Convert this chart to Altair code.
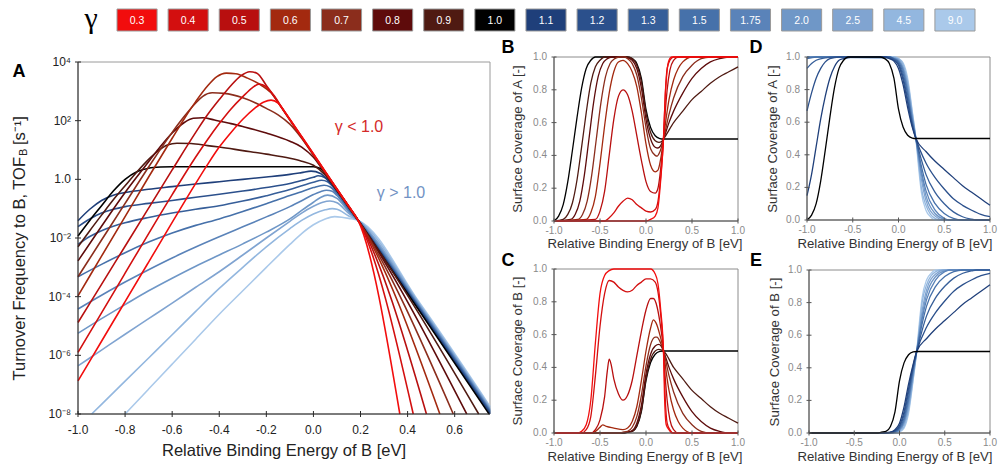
import altair as alt
import pandas as pd

FONT = "Liberation Sans"

GAMMAS = ["0.3", "0.4", "0.5", "0.6", "0.7", "0.8", "0.9", "1.0", "1.1", "1.2",
          "1.3", "1.5", "1.75", "2.0", "2.5", "4.5", "9.0"]
COLORS = ["#f20d0d", "#d30f0f", "#b80f0f", "#a3290f", "#8b2d1c", "#5e0b0b", "#4f1a12",
          "#000000", "#1f3f7a", "#2b508c", "#365e99", "#4671aa", "#5a83b9", "#6f97c7",
          "#80a4d1", "#93b7df", "#aac9ea"]

# tick values / labels
A_XTICKS = [-1.0, -0.8, -0.6, -0.4, -0.2, 0.0, 0.2, 0.4, 0.6]
A_XLABELS = ["-1.0", "-0.8", "-0.6", "-0.4", "-0.2", "0.0", "0.2", "0.4", "0.6"]
A_YTICKS = [-8, -6, -4, -2, 0, 2, 4]
A_YLABELS = ["10\u207b\u2078", "10\u207b\u2076", "10\u207b\u2074", "10\u207b\u00b2", "1.0",
             "10\u00b2", "10\u2074"]
S_XTICKS = [-1.0, -0.5, 0.0, 0.5, 1.0]
S_XLABELS = ["-1.0", "-0.5", "0.0", "0.5", "1.0"]
S_YTICKS = [0.0, 0.2, 0.4, 0.6, 0.8, 1.0]
S_YLABELS = ["0.0", "0.2", "0.4", "0.6", "0.8", "1.0"]

# ---------------- Panel A: log10(TOF_B) vs relative binding energy ----------------
A_CURVES = {
    "9.0": [(-0.8, -8.0), (-0.7, -7.15), (-0.6, -6.3), (-0.5, -5.45), (-0.4, -4.6), (-0.3, -3.8),
            (-0.2, -3.0), (-0.1, -2.22), (-0.05, -1.85), (0.0, -1.55), (0.05, -1.35), (0.09, -1.27),
            (0.12, -1.29), (0.15, -1.33), (0.19, -1.4), (0.45, -4.2), (0.75, -7.74)],
    "4.5": [(-0.942, -8.0), (-0.9, -7.67), (-0.8, -6.88), (-0.7, -6.09), (-0.6, -5.3), (-0.5, -4.5),
            (-0.4, -3.72), (-0.3, -3.0), (-0.2, -2.3), (-0.1, -1.68), (-0.05, -1.4), (0.0, -1.18),
            (0.05, -1.04), (0.08, -1.0), (0.1, -1.02), (0.15, -1.25), (0.19, -1.4), (0.45, -4.24),
            (0.75, -7.78)],
    "2.5": [(-1.0, -6.36), (-0.9, -5.82), (-0.8, -5.28), (-0.7, -4.75), (-0.6, -4.22), (-0.5, -3.68),
            (-0.4, -3.15), (-0.3, -2.58), (-0.2, -2.0), (-0.1, -1.43), (-0.05, -1.15), (0.0, -0.92),
            (0.04, -0.78), (0.07, -0.74), (0.1, -0.8), (0.15, -1.16), (0.19, -1.4), (0.45, -4.28),
            (0.75, -7.82)],
    "2.0": [(-1.0, -5.25), (-0.9, -4.75), (-0.8, -4.27), (-0.7, -3.8), (-0.6, -3.37), (-0.5, -2.96),
            (-0.4, -2.58), (-0.3, -2.2), (-0.2, -1.8), (-0.1, -1.35), (-0.05, -1.06), (0.0, -0.78),
            (0.03, -0.62), (0.06, -0.54), (0.1, -0.65), (0.15, -1.1), (0.19, -1.4), (0.45, -4.31),
            (0.75, -7.85)],
    "1.75": [(-1.0, -4.42), (-0.9, -3.95), (-0.8, -3.5), (-0.7, -3.08), (-0.6, -2.68), (-0.5, -2.31),
             (-0.4, -1.96), (-0.3, -1.62), (-0.2, -1.28), (-0.1, -0.93), (-0.05, -0.73), (0.0, -0.52),
             (0.03, -0.42), (0.055, -0.37), (0.08, -0.41), (0.1, -0.55), (0.15, -1.05), (0.19, -1.4),
             (0.45, -4.34), (0.75, -7.88)],
    "1.5": [(-1.0, -3.32), (-0.9, -2.9), (-0.8, -2.5), (-0.7, -2.14), (-0.6, -1.83), (-0.5, -1.57),
            (-0.4, -1.35), (-0.3, -1.1), (-0.2, -0.83), (-0.1, -0.55), (-0.05, -0.42), (0.0, -0.28),
            (0.045, -0.2), (0.07, -0.25), (0.1, -0.48), (0.15, -1.01), (0.19, -1.4), (0.45, -4.37),
            (0.75, -7.91)],
    "1.3": [(-1.0, -2.22), (-0.95, -1.95), (-0.9, -1.75), (-0.85, -1.6), (-0.8, -1.48), (-0.7, -1.3),
            (-0.6, -1.15), (-0.5, -1.02), (-0.4, -0.9), (-0.3, -0.74), (-0.2, -0.56), (-0.1, -0.35),
            (-0.05, -0.22), (0.0, -0.1), (0.035, -0.03), (0.06, -0.08), (0.1, -0.42), (0.15, -0.98),
            (0.19, -1.4), (0.45, -4.4), (0.75, -7.94)],
    "1.2": [(-1.0, -1.61), (-0.95, -1.35), (-0.9, -1.15), (-0.85, -1.02), (-0.8, -0.93), (-0.7, -0.82),
            (-0.6, -0.72), (-0.5, -0.61), (-0.4, -0.51), (-0.3, -0.4), (-0.2, -0.28), (-0.1, -0.14),
            (-0.05, -0.04), (0.0, 0.07), (0.02, 0.12), (0.05, 0.05), (0.1, -0.4), (0.15, -0.96),
            (0.19, -1.4), (0.45, -4.42), (0.75, -7.97)],
    "1.1": [(-1.0, -1.41), (-0.95, -1.02), (-0.9, -0.72), (-0.85, -0.54), (-0.8, -0.45), (-0.7, -0.34),
            (-0.6, -0.25), (-0.5, -0.16), (-0.4, -0.08), (-0.3, 0.0), (-0.2, 0.08), (-0.1, 0.17),
            (-0.05, 0.23), (-0.01, 0.28), (0.03, 0.2), (0.06, -0.02), (0.1, -0.38), (0.15, -0.94),
            (0.19, -1.4), (0.45, -4.45), (0.75, -8.0)],
    "1.0": [(-1.0, -1.93), (-0.95, -1.4), (-0.9, -0.9), (-0.85, -0.4), (-0.8, 0.0), (-0.75, 0.26),
            (-0.7, 0.38), (-0.65, 0.42), (-0.6, 0.43), (0.0, 0.43), (0.03, 0.37), (0.06, 0.08),
            (0.1, -0.37), (0.15, -0.93), (0.19, -1.4), (0.746, -8.0)],
    "0.9": [(-1.0, -2.3), (-0.95, -1.75), (-0.9, -1.22), (-0.85, -0.7), (-0.8, -0.22), (-0.75, 0.25),
            (-0.7, 0.68), (-0.66, 0.97), (-0.62, 1.17), (-0.58, 1.23), (-0.52, 1.22), (-0.45, 1.15),
            (-0.4, 1.1), (-0.3, 0.98), (-0.2, 0.86), (-0.1, 0.72), (-0.05, 0.62), (0.0, 0.48),
            (0.05, 0.15), (0.1, -0.38), (0.15, -0.95), (0.19, -1.4), (0.702, -8.0)],
    "0.8": [(-1.0, -2.78), (-0.9, -1.6), (-0.8, -0.45), (-0.7, 0.6), (-0.65, 1.12), (-0.6, 1.58),
            (-0.55, 1.93), (-0.51, 2.08), (-0.47, 2.1), (-0.42, 2.02), (-0.35, 1.9), (-0.3, 1.8),
            (-0.2, 1.58), (-0.1, 1.3), (-0.05, 1.1), (0.0, 0.75), (0.05, 0.2), (0.1, -0.36),
            (0.15, -0.94), (0.19, -1.4), (0.651, -8.0)],
    "0.7": [(-1.0, -3.32), (-0.9, -2.07), (-0.8, -0.82), (-0.7, 0.42), (-0.6, 1.6), (-0.55, 2.13),
            (-0.5, 2.6), (-0.47, 2.83), (-0.43, 2.95), (-0.38, 2.93), (-0.3, 2.78), (-0.25, 2.62),
            (-0.2, 2.42), (-0.15, 2.2), (-0.1, 1.88), (-0.05, 1.4), (0.0, 0.82), (0.05, 0.23),
            (0.1, -0.35), (0.15, -0.93), (0.19, -1.4), (0.594, -8.0)],
    "0.6": [(-1.0, -3.97), (-0.9, -2.62), (-0.8, -1.27), (-0.7, 0.08), (-0.6, 1.4), (-0.55, 2.05),
            (-0.5, 2.65), (-0.45, 3.18), (-0.41, 3.5), (-0.37, 3.62), (-0.33, 3.6), (-0.28, 3.45),
            (-0.22, 3.2), (-0.18, 2.95), (-0.14, 2.5), (-0.1, 2.02), (-0.05, 1.43), (0.0, 0.84),
            (0.05, 0.24), (0.1, -0.35), (0.15, -0.93), (0.19, -1.4), (0.537, -8.0)],
    "0.5": [(-1.0, -4.88), (-0.9, -3.58), (-0.8, -2.28), (-0.7, -0.98), (-0.6, 0.32), (-0.5, 1.6),
            (-0.45, 2.2), (-0.4, 2.72), (-0.35, 3.2), (-0.31, 3.52), (-0.27, 3.67), (-0.24, 3.62),
            (-0.2, 3.2), (-0.15, 2.62), (-0.1, 2.03), (-0.05, 1.44), (0.0, 0.85), (0.05, 0.25),
            (0.1, -0.34), (0.15, -0.92), (0.19, -1.4), (0.48, -8.0)],
    "0.4": [(-1.0, -5.9), (-0.9, -4.55), (-0.8, -3.2), (-0.7, -1.85), (-0.6, -0.52), (-0.5, 0.76),
            (-0.45, 1.35), (-0.4, 1.9), (-0.35, 2.4), (-0.3, 2.82), (-0.26, 3.12), (-0.23, 3.25),
            (-0.2, 3.15), (-0.17, 2.88), (-0.13, 2.4), (-0.1, 2.04), (-0.05, 1.45), (0.0, 0.86),
            (0.05, 0.26), (0.1, -0.33), (0.15, -0.92), (0.19, -1.4), (0.424, -8.0)],
    "0.3": [(-1.0, -6.87), (-0.9, -5.52), (-0.8, -4.17), (-0.7, -2.82), (-0.6, -1.47), (-0.5, -0.14),
            (-0.45, 0.5), (-0.4, 1.1), (-0.35, 1.6), (-0.3, 2.05), (-0.25, 2.42), (-0.21, 2.64),
            (-0.18, 2.7), (-0.15, 2.6), (-0.12, 2.28), (-0.1, 2.05), (-0.05, 1.46), (0.0, 0.87),
            (0.05, 0.27), (0.1, -0.33), (0.15, -0.92), (0.19, -1.4), (0.367, -8.0)],
}

# ---------------- Panel B: coverage of A, gamma <= 1 ----------------
B_CURVES = {
    "1.0": [(-1.0, 0.0), (-0.95, 0.03), (-0.9, 0.1), (-0.85, 0.24), (-0.8, 0.43), (-0.75, 0.63),
            (-0.7, 0.81), (-0.65, 0.93), (-0.6, 0.98), (-0.55, 1.0), (-0.2, 1.0), (-0.15, 0.99),
            (-0.1, 0.96), (-0.05, 0.87), (0.0, 0.68), (0.05, 0.57), (0.1, 0.52), (0.15, 0.503),
            (0.19, 0.5), (1.0, 0.5)],
    "0.9": [(-1.0, 0.0), (-0.9, 0.01), (-0.85, 0.04), (-0.8, 0.11), (-0.75, 0.25), (-0.7, 0.45),
            (-0.65, 0.66), (-0.6, 0.84), (-0.55, 0.94), (-0.5, 0.98), (-0.45, 1.0), (-0.2, 1.0),
            (-0.15, 0.99), (-0.1, 0.95), (-0.05, 0.85), (0.0, 0.66), (0.05, 0.54), (0.1, 0.49),
            (0.14, 0.48), (0.17, 0.485), (0.19, 0.5), (0.3, 0.6), (0.4, 0.67), (0.5, 0.74),
            (0.6, 0.79), (0.7, 0.84), (0.8, 0.88), (0.9, 0.91), (1.0, 0.94)],
    "0.8": [(-1.0, 0.0), (-0.82, 0.01), (-0.77, 0.04), (-0.72, 0.12), (-0.67, 0.28), (-0.62, 0.5),
            (-0.57, 0.72), (-0.52, 0.88), (-0.47, 0.96), (-0.42, 0.99), (-0.37, 1.0), (-0.25, 1.0),
            (-0.2, 0.995), (-0.15, 0.98), (-0.1, 0.93), (-0.05, 0.81), (0.0, 0.62), (0.05, 0.5),
            (0.1, 0.45), (0.13, 0.445), (0.16, 0.46), (0.19, 0.5), (0.25, 0.6), (0.3, 0.67),
            (0.4, 0.78), (0.5, 0.87), (0.6, 0.93), (0.7, 0.97), (0.8, 0.99), (0.9, 1.0), (1.0, 1.0)],
    "0.7": [(-1.0, 0.0), (-0.74, 0.01), (-0.69, 0.04), (-0.64, 0.12), (-0.59, 0.28), (-0.54, 0.5),
            (-0.49, 0.72), (-0.44, 0.88), (-0.39, 0.96), (-0.34, 0.99), (-0.29, 1.0), (-0.23, 1.0),
            (-0.2, 0.99), (-0.15, 0.96), (-0.1, 0.89), (-0.05, 0.75), (0.0, 0.57), (0.05, 0.44),
            (0.1, 0.4), (0.12, 0.395), (0.15, 0.42), (0.19, 0.5), (0.25, 0.65), (0.3, 0.75),
            (0.4, 0.88), (0.5, 0.95), (0.6, 0.99), (0.7, 1.0), (1.0, 1.0)],
    "0.6": [(-1.0, 0.0), (-0.65, 0.01), (-0.6, 0.05), (-0.55, 0.15), (-0.5, 0.35), (-0.45, 0.58),
            (-0.4, 0.78), (-0.35, 0.91), (-0.3, 0.97), (-0.25, 0.98), (-0.2, 0.96), (-0.15, 0.91),
            (-0.1, 0.82), (-0.05, 0.66), (0.0, 0.47), (0.05, 0.34), (0.1, 0.3), (0.13, 0.31),
            (0.16, 0.38), (0.19, 0.5), (0.22, 0.63), (0.25, 0.74), (0.3, 0.86), (0.35, 0.93),
            (0.4, 0.97), (0.5, 1.0), (1.0, 1.0)],
    "0.5": [(-1.0, 0.0), (-0.55, 0.01), (-0.5, 0.06), (-0.45, 0.18), (-0.4, 0.4), (-0.35, 0.62),
            (-0.3, 0.76), (-0.25, 0.8), (-0.2, 0.77), (-0.15, 0.67), (-0.1, 0.52), (-0.05, 0.37),
            (0.0, 0.24), (0.05, 0.18), (0.1, 0.17), (0.13, 0.2), (0.16, 0.32), (0.19, 0.5),
            (0.21, 0.67), (0.23, 0.8), (0.26, 0.92), (0.3, 0.98), (0.35, 1.0), (1.0, 1.0)],
    "0.4": [(-1.0, 0.0), (-0.45, 0.0), (-0.4, 0.02), (-0.35, 0.05), (-0.3, 0.09), (-0.25, 0.12),
            (-0.2, 0.14), (-0.15, 0.13), (-0.1, 0.1), (-0.05, 0.08), (0.0, 0.06), (0.05, 0.055),
            (0.1, 0.07), (0.13, 0.12), (0.16, 0.27), (0.19, 0.5), (0.21, 0.78), (0.23, 0.93),
            (0.26, 0.98), (0.3, 1.0), (1.0, 1.0)],
    "0.3": [(-1.0, 0.0), (0.0, 0.0), (0.05, 0.01), (0.1, 0.03), (0.13, 0.08), (0.16, 0.25),
            (0.19, 0.5), (0.21, 0.77), (0.23, 0.92), (0.25, 0.98), (0.28, 1.0), (1.0, 1.0)],
}

# ---------------- Panel C: coverage of B, gamma <= 1 ----------------
C_CURVES = {
    "1.0": [(-1.0, 0.0), (-0.25, 0.0), (-0.2, 0.005), (-0.15, 0.01), (-0.1, 0.04), (-0.05, 0.13),
            (0.0, 0.32), (0.05, 0.43), (0.1, 0.48), (0.15, 0.497), (0.19, 0.5), (1.0, 0.5)],
    "0.9": [(-1.0, 0.0), (-0.25, 0.0), (-0.2, 0.005), (-0.15, 0.01), (-0.1, 0.045), (-0.05, 0.14),
            (0.0, 0.33), (0.05, 0.45), (0.1, 0.5), (0.14, 0.51), (0.17, 0.505), (0.19, 0.5),
            (0.3, 0.4), (0.4, 0.33), (0.5, 0.26), (0.6, 0.21), (0.7, 0.16), (0.8, 0.12),
            (0.9, 0.09), (1.0, 0.06)],
    "0.8": [(-1.0, 0.0), (-0.3, 0.0), (-0.2, 0.005), (-0.15, 0.015), (-0.1, 0.06), (-0.05, 0.17),
            (0.0, 0.36), (0.05, 0.48), (0.1, 0.53), (0.14, 0.54), (0.17, 0.525), (0.19, 0.5),
            (0.25, 0.4), (0.3, 0.33), (0.4, 0.22), (0.5, 0.13), (0.6, 0.07), (0.7, 0.03),
            (0.8, 0.01), (0.9, 0.0), (1.0, 0.0)],
    "0.7": [(-1.0, 0.0), (-0.3, 0.0), (-0.25, 0.005), (-0.2, 0.01), (-0.15, 0.035), (-0.1, 0.1),
            (-0.05, 0.23), (0.0, 0.41), (0.05, 0.54), (0.1, 0.585), (0.12, 0.585), (0.15, 0.56),
            (0.19, 0.5), (0.25, 0.35), (0.3, 0.25), (0.4, 0.12), (0.5, 0.05), (0.6, 0.01),
            (0.7, 0.0), (1.0, 0.0)],
    "0.6": [(-1.0, 0.0), (-0.6, 0.0), (-0.55, 0.01), (-0.5, 0.035), (-0.47, 0.05), (-0.43, 0.04),
            (-0.35, 0.03), (-0.25, 0.02), (-0.2, 0.03), (-0.15, 0.07), (-0.1, 0.16), (-0.05, 0.32),
            (0.0, 0.5), (0.05, 0.64), (0.08, 0.69), (0.11, 0.67), (0.15, 0.6), (0.19, 0.5),
            (0.22, 0.37), (0.25, 0.26), (0.3, 0.14), (0.35, 0.07), (0.4, 0.03), (0.5, 0.0), (1.0, 0.0)],
    "0.5": [(-1.0, 0.0), (-0.6, 0.0), (-0.55, 0.02), (-0.5, 0.08), (-0.45, 0.22), (-0.42, 0.38),
            (-0.4, 0.45), (-0.38, 0.42), (-0.35, 0.33), (-0.3, 0.24), (-0.25, 0.2), (-0.2, 0.23),
            (-0.15, 0.32), (-0.1, 0.47), (-0.05, 0.62), (0.0, 0.75), (0.05, 0.82), (0.08, 0.82),
            (0.12, 0.77), (0.15, 0.68), (0.19, 0.5), (0.21, 0.33), (0.23, 0.2), (0.26, 0.08),
            (0.3, 0.02), (0.35, 0.0), (1.0, 0.0)],
    "0.4": [(-1.0, 0.0), (-0.7, 0.0), (-0.65, 0.02), (-0.6, 0.1), (-0.55, 0.35), (-0.5, 0.65),
            (-0.45, 0.85), (-0.4, 0.93), (-0.35, 0.92), (-0.3, 0.89), (-0.25, 0.87), (-0.2, 0.86),
            (-0.15, 0.87), (-0.1, 0.9), (-0.05, 0.92), (0.0, 0.94), (0.05, 0.94), (0.1, 0.92),
            (0.13, 0.86), (0.16, 0.72), (0.19, 0.5), (0.21, 0.2), (0.23, 0.06), (0.26, 0.02),
            (0.3, 0.0), (1.0, 0.0)],
    "0.3": [(-1.0, 0.0), (-0.75, 0.0), (-0.7, 0.01), (-0.65, 0.05), (-0.6, 0.2), (-0.55, 0.55),
            (-0.5, 0.85), (-0.45, 0.96), (-0.4, 0.99), (-0.35, 1.0), (0.05, 1.0), (0.1, 0.97),
            (0.13, 0.91), (0.16, 0.75), (0.19, 0.5), (0.2, 0.25), (0.22, 0.05), (0.25, 0.02),
            (0.28, 0.0), (1.0, 0.0)],
}

# ---------------- Panel D: coverage of A, gamma >= 1 ----------------
D_CURVES = {
    "9.0": [(-1.0, 1.0), (-0.05, 1.0), (0.0, 0.99), (0.05, 0.965), (0.1, 0.87), (0.15, 0.67),
            (0.19, 0.5), (0.22, 0.32), (0.25, 0.17), (0.3, 0.06), (0.35, 0.02), (0.4, 0.0), (1.0, 0.0)],
    "4.5": [(-1.0, 1.0), (-0.05, 1.0), (0.0, 0.99), (0.05, 0.955), (0.1, 0.85), (0.15, 0.66),
            (0.19, 0.5), (0.22, 0.35), (0.25, 0.2), (0.3, 0.09), (0.35, 0.035), (0.4, 0.01),
            (0.45, 0.0), (1.0, 0.0)],
    "2.5": [(-1.0, 1.0), (-0.05, 0.995), (0.0, 0.985), (0.05, 0.94), (0.1, 0.83), (0.15, 0.64),
            (0.19, 0.5), (0.25, 0.25), (0.3, 0.12), (0.4, 0.025), (0.5, 0.0), (1.0, 0.0)],
    "2.0": [(-1.0, 1.0), (-0.05, 0.995), (0.0, 0.98), (0.05, 0.93), (0.1, 0.81), (0.15, 0.63),
            (0.19, 0.5), (0.25, 0.28), (0.3, 0.15), (0.4, 0.04), (0.5, 0.005), (0.55, 0.0), (1.0, 0.0)],
    "1.75": [(-1.0, 1.0), (-0.1, 1.0), (-0.05, 0.99), (0.0, 0.975), (0.05, 0.92), (0.1, 0.79),
             (0.15, 0.62), (0.19, 0.5), (0.25, 0.3), (0.3, 0.18), (0.4, 0.06), (0.5, 0.01),
             (0.55, 0.0), (1.0, 0.0)],
    "1.5": [(-1.0, 0.99), (-0.9, 1.0), (-0.1, 1.0), (-0.05, 0.99), (0.0, 0.97), (0.05, 0.9),
            (0.1, 0.77), (0.15, 0.6), (0.19, 0.5), (0.25, 0.33), (0.3, 0.22), (0.4, 0.1),
            (0.5, 0.04), (0.6, 0.01), (0.7, 0.0), (1.0, 0.0)],
    "1.3": [(-1.0, 0.93), (-0.95, 0.96), (-0.9, 0.98), (-0.8, 0.995), (-0.7, 1.0), (-0.1, 1.0),
            (-0.05, 0.985), (0.0, 0.96), (0.05, 0.88), (0.1, 0.74), (0.15, 0.59), (0.19, 0.5),
            (0.25, 0.37), (0.3, 0.28), (0.4, 0.17), (0.5, 0.1), (0.6, 0.05), (0.7, 0.02),
            (0.8, 0.005), (0.85, 0.0), (1.0, 0.0)],
    "1.2": [(-1.0, 0.67), (-0.95, 0.78), (-0.9, 0.87), (-0.85, 0.93), (-0.8, 0.97), (-0.75, 0.99),
            (-0.65, 1.0), (-0.15, 1.0), (-0.1, 0.995), (-0.05, 0.98), (0.0, 0.95), (0.05, 0.86),
            (0.1, 0.72), (0.15, 0.58), (0.19, 0.5), (0.3, 0.35), (0.4, 0.26), (0.5, 0.19),
            (0.6, 0.13), (0.7, 0.09), (0.8, 0.06), (0.9, 0.035), (1.0, 0.02)],
    "1.1": [(-1.0, 0.15), (-0.95, 0.28), (-0.9, 0.45), (-0.85, 0.62), (-0.8, 0.76), (-0.75, 0.87),
            (-0.7, 0.94), (-0.65, 0.98), (-0.6, 0.99), (-0.5, 1.0), (-0.15, 1.0), (-0.1, 0.99),
            (-0.05, 0.975), (0.0, 0.93), (0.05, 0.83), (0.1, 0.69), (0.15, 0.57), (0.19, 0.5),
            (0.3, 0.42), (0.4, 0.36), (0.5, 0.31), (0.6, 0.26), (0.7, 0.21), (0.8, 0.17),
            (0.9, 0.13), (1.0, 0.09)],
    "1.0": B_CURVES["1.0"],
}

# ---------------- Panel E: coverage of B, gamma >= 1 ----------------
E_CURVES = {
    "9.0": [(-1.0, 0.0), (-0.05, 0.0), (0.0, 0.007), (0.05, 0.03), (0.1, 0.12), (0.15, 0.32),
            (0.19, 0.5), (0.22, 0.68), (0.25, 0.83), (0.3, 0.94), (0.35, 0.98), (0.4, 1.0), (1.0, 1.0)],
    "4.5": [(-1.0, 0.0), (-0.05, 0.0), (0.0, 0.01), (0.05, 0.04), (0.1, 0.14), (0.15, 0.33),
            (0.19, 0.5), (0.22, 0.65), (0.25, 0.8), (0.3, 0.91), (0.35, 0.965), (0.4, 0.99),
            (0.45, 1.0), (1.0, 1.0)],
    "2.5": [(-1.0, 0.0), (-0.1, 0.0), (-0.05, 0.004), (0.0, 0.014), (0.05, 0.055), (0.1, 0.16),
            (0.15, 0.35), (0.19, 0.5), (0.25, 0.75), (0.3, 0.88), (0.4, 0.975), (0.5, 1.0), (1.0, 1.0)],
    "2.0": [(-1.0, 0.0), (-0.1, 0.0), (-0.05, 0.005), (0.0, 0.018), (0.05, 0.065), (0.1, 0.18),
            (0.15, 0.36), (0.19, 0.5), (0.25, 0.72), (0.3, 0.85), (0.4, 0.96), (0.5, 0.995),
            (0.55, 1.0), (1.0, 1.0)],
    "1.75": [(-1.0, 0.0), (-0.1, 0.0), (-0.05, 0.006), (0.0, 0.022), (0.05, 0.075), (0.1, 0.2),
             (0.15, 0.37), (0.19, 0.5), (0.25, 0.7), (0.3, 0.82), (0.4, 0.94), (0.5, 0.99),
             (0.55, 1.0), (1.0, 1.0)],
    "1.5": [(-1.0, 0.0), (-0.15, 0.0), (-0.1, 0.003), (-0.05, 0.008), (0.0, 0.028), (0.05, 0.09),
            (0.1, 0.22), (0.15, 0.39), (0.19, 0.5), (0.25, 0.67), (0.3, 0.78), (0.4, 0.9),
            (0.5, 0.96), (0.6, 0.99), (0.7, 1.0), (1.0, 1.0)],
    "1.3": [(-1.0, 0.0), (-0.15, 0.0), (-0.1, 0.004), (-0.05, 0.01), (0.0, 0.035), (0.05, 0.11),
            (0.1, 0.25), (0.15, 0.4), (0.19, 0.5), (0.25, 0.63), (0.3, 0.72), (0.4, 0.83),
            (0.5, 0.9), (0.6, 0.95), (0.7, 0.98), (0.8, 0.995), (0.85, 1.0), (1.0, 1.0)],
    "1.2": [(-1.0, 0.0), (-0.15, 0.0), (-0.1, 0.004), (-0.05, 0.015), (0.0, 0.045), (0.05, 0.13),
            (0.1, 0.27), (0.15, 0.41), (0.19, 0.5), (0.3, 0.65), (0.4, 0.74), (0.5, 0.81),
            (0.6, 0.87), (0.7, 0.91), (0.8, 0.94), (0.9, 0.965), (1.0, 0.98)],
    "1.1": [(-1.0, 0.0), (-0.2, 0.0), (-0.1, 0.005), (-0.05, 0.02), (0.0, 0.06), (0.05, 0.16),
            (0.1, 0.3), (0.15, 0.42), (0.19, 0.5), (0.3, 0.58), (0.4, 0.64), (0.5, 0.69),
            (0.6, 0.74), (0.7, 0.79), (0.8, 0.83), (0.9, 0.87), (1.0, 0.91)],
    "1.0": C_CURVES["1.0"],
}

A_ORDER = ["9.0", "4.5", "2.5", "2.0", "1.75", "1.5", "1.3", "1.2", "1.1", "1.0",
           "0.9", "0.8", "0.7", "0.6", "0.5", "0.4", "0.3"]
LOW_ORDER = ["1.0", "0.9", "0.8", "0.7", "0.6", "0.5", "0.4", "0.3"]
HIGH_ORDER = ["9.0", "4.5", "2.5", "2.0", "1.75", "1.5", "1.3", "1.2", "1.1", "1.0"]

CSCALE = alt.Scale(domain=GAMMAS, range=COLORS)


def curves_frame(curves, order):
    rows = []
    for k, g in enumerate(order):
        for x, y in curves[g]:
            rows.append({"g": g, "k": k, "x": x, "y": y})
    return pd.DataFrame(rows)


def panel(curves, order, xdom, xrng, ydom, yrng, sw, sty):
    """Lines + frame + hand-drawn axes for one panel, all sharing the panel's scales."""
    xs = alt.Scale(domain=xdom, range=xrng, nice=False, zero=False)
    ys = alt.Scale(domain=ydom, range=yrng, nice=False, zero=False)

    def X(f):
        return alt.X(f, scale=xs, axis=None)

    def Y(f):
        return alt.Y(f, scale=ys, axis=None)

    x0, ybot = xrng[0], yrng[0]
    frame_df = pd.DataFrame({"x": [xdom[0]], "x2": [xdom[1]], "y": [ydom[0]], "y2": [ydom[1]]})
    frame = alt.Chart(frame_df).mark_rect(
        fillOpacity=0, stroke=sty["frame"], strokeWidth=1).encode(
        x=X("x:Q"), x2="x2:Q", y=Y("y:Q"), y2="y2:Q")
    lines = alt.Chart(curves_frame(curves, order)).mark_line(
        interpolate="monotone", strokeWidth=sw).encode(
        x=X("x:Q"), y=Y("y:Q"),
        color=alt.Color("g:N", scale=CSCALE, legend=None),
        detail="k:O")
    bottom = alt.Chart(frame_df).mark_rule(color=sty["axis"], strokeWidth=1).encode(
        x=X("x:Q"), x2="x2:Q", y=Y("y:Q"))
    left = alt.Chart(frame_df).mark_rule(color=sty["axis"], strokeWidth=1).encode(
        x=X("x:Q"), y=Y("y:Q"), y2="y2:Q")
    xt = pd.DataFrame({"v": sty["xt"], "lab": sty["xl"]})
    yt = pd.DataFrame({"v": sty["yt"], "lab": sty["yl"]})
    half = sty["tick"]
    xticks = alt.Chart(xt).mark_rule(color=sty["axis"], strokeWidth=1).encode(
        x=X("v:Q"), y=alt.value(ybot - half), y2=alt.value(ybot + half))
    yticks = alt.Chart(yt).mark_rule(color=sty["axis"], strokeWidth=1).encode(
        y=Y("v:Q"), x=alt.value(x0 - half), x2=alt.value(x0 + half))
    xlabels = alt.Chart(xt).mark_text(
        fontSize=sty["lsize"], color=sty["lcolor"], baseline="middle", font=FONT).encode(
        x=X("v:Q"), y=alt.value(ybot + sty["xlab_dy"]), text="lab:N")
    ylabels = alt.Chart(yt).mark_text(
        fontSize=sty["lsize"], color=sty["lcolor"], baseline="middle", align="right",
        font=FONT).encode(
        y=Y("v:Q"), x=alt.value(x0 - sty["ylab_dx"]), text="lab:N")
    return alt.layer(frame, lines, bottom, left, xticks, yticks, xlabels, ylabels)


STY_A = dict(frame="#9a9a9a", axis="#2a2a2a", xt=A_XTICKS, xl=A_XLABELS, yt=A_YTICKS,
             yl=A_YLABELS, tick=3, lsize=12, lcolor="#222222", xlab_dy=16, ylab_dx=7)
STY_S = dict(frame="#8c8c8c", axis="#555555", xt=S_XTICKS, xl=S_XLABELS, yt=S_YTICKS,
             yl=S_YLABELS, tick=2.5, lsize=10, lcolor="#8a8a8a", xlab_dy=10, ylab_dx=7)

panel_a = panel(A_CURVES, A_ORDER, [-1.0, 0.75], [78, 490], [-8, 4], [414, 62], 1.6, STY_A)
panel_b = panel(B_CURVES, LOW_ORDER, [-1.0, 1.0], [554, 738], [0.0, 1.0], [221, 57], 1.3, STY_S)
panel_c = panel(C_CURVES, LOW_ORDER, [-1.0, 1.0], [554, 738], [0.0, 1.0], [433, 269], 1.3, STY_S)
panel_d = panel(D_CURVES, HIGH_ORDER, [-1.0, 1.0], [807, 990], [0.0, 1.0], [220, 57], 1.3, STY_S)
panel_e = panel(E_CURVES, HIGH_ORDER, [-1.0, 1.0], [809, 990], [0.0, 1.0], [433, 270], 1.3, STY_S)

# ---- gamma legend strip ----
leg_df = pd.DataFrame({"g": GAMMAS})
leg_x = alt.X("g:N", sort=GAMMAS, axis=None,
              scale=alt.Scale(domain=GAMMAS, range=[117, 975], paddingInner=0.216, paddingOuter=0))
leg_boxes = alt.Chart(leg_df).mark_rect(stroke="#9a9a9a", strokeWidth=1).encode(
    x=leg_x, y=alt.value(9), y2=alt.value(31),
    color=alt.Color("g:N", scale=CSCALE, legend=None))
leg_text = alt.Chart(leg_df).mark_text(color="white", fontSize=10.5, font=FONT).encode(
    x=leg_x, y=alt.value(20.5), text="g:N")
legend = alt.layer(leg_boxes, leg_text)

# ---- text decorations ----
one = pd.DataFrame({"t": [0]})


def label(txt, x, y, size, color="#000000", weight="normal", font=FONT, angle=0, align="center"):
    return alt.Chart(one).mark_text(text=txt, fontSize=size, color=color, fontWeight=weight,
                                    font=font, angle=angle, align=align, baseline="middle").encode(
        x=alt.value(x), y=alt.value(y))


XT = "Relative Binding Energy of B [eV]"
ST = 13.2
decor = alt.layer(
    label("\u03b3", 91, 19, 30, font="Liberation Serif"),
    label("A", 19, 72, 18, weight="bold"),
    label("B", 508, 48, 18, weight="bold"),
    label("D", 756, 48, 18, weight="bold"),
    label("C", 508, 261, 18, weight="bold"),
    label("E", 756, 261, 18, weight="bold"),
    label("\u03b3 < 1.0", 359, 127, 16, color="#d42a2a"),
    label("\u03b3 > 1.0", 401, 193, 16, color="#7292c4"),
    # panel A axis titles
    label(XT, 284, 451, 16.5, color="#222222"),
    label("Turnover Frequency to B, TOF", 20, 157, 16.5, color="#222222", angle=270, align="right"),
    label("B", 24, 156, 11, color="#222222", angle=270, align="left"),
    label("[s\u207b\u00b9]", 20, 145, 16.5, color="#222222", angle=270, align="left"),
    # small panels axis titles
    label(XT, 645, 244, ST, color="#333333"),
    label(XT, 645, 457, ST, color="#333333"),
    label(XT, 895, 244, ST, color="#333333"),
    label(XT, 895, 457, ST, color="#333333"),
    label("Surface Coverage of A [-]", 518, 139, ST, color="#333333", angle=270),
    label("Surface Coverage of B [-]", 518, 351, ST, color="#333333", angle=270),
    label("Surface Coverage of A [-]", 773, 139, ST, color="#333333", angle=270),
    label("Surface Coverage of B [-]", 775, 352, ST, color="#333333", angle=270),
)

chart = alt.layer(legend, panel_a, panel_b, panel_c, panel_d, panel_e, decor).resolve_scale(
    x="independent", y="independent"
).properties(
    width=998, height=472, padding=0, autosize=alt.AutoSizeParams(type="none")
).configure(font=FONT).configure_view(stroke=None)

chart.save("out.html", embed_options={"renderer": "svg", "actions": False})
